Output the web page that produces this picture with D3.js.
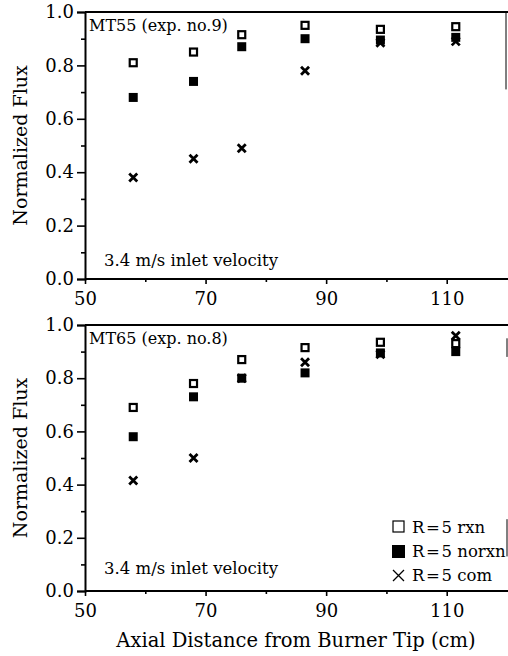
<!DOCTYPE html>
<html>
<head>
<meta charset="utf-8">
<script src="https://cdn.jsdelivr.net/npm/d3@7"></script>
<style>
  body { margin: 0; background: #fff; }
  svg { display: block; font-family: "DejaVu Serif", "Liberation Serif", serif; }
</style>
</head>
<body>
<svg id="chart" width="508" height="656"></svg>
<script>
// axial positions of the probe (cm)
const distances = [58, 68, 76, 86.5, 99, 111.5];

// MT55 (exp. no.9)
const mt55Rxn = [0.81, 0.85, 0.915, 0.95, 0.935, 0.945];
const mt55Norxn = [0.68, 0.74, 0.87, 0.90, 0.895, 0.905];
const mt55Com = [0.38, 0.45, 0.49, 0.78, 0.885, 0.89];

// MT65 (exp. no.8)
const mt65Rxn = [0.69, 0.78, 0.87, 0.915, 0.935, 0.93];
const mt65Norxn = [0.58, 0.73, 0.80, 0.82, 0.895, 0.90];
const mt65Com = [0.415, 0.50, 0.80, 0.86, 0.89, 0.96];

const panelTitles = ["MT55 (exp. no.9)", "MT65 (exp. no.8)"];
const noteText = "3.4 m/s inlet velocity";
const xTicks = [50, 70, 90, 110];
const xMinorTicks = [60, 80, 100];
const yTicks = [0, 0.2, 0.4, 0.6, 0.8, 1.0];
const yMinorTicks = [0.1, 0.3, 0.5, 0.7, 0.9];
const legendLabels = ["R\u200a=\u200a5 rxn", "R\u200a=\u200a5 norxn", "R\u200a=\u200a5 com"];

const svg = d3.select("#chart");
const left = 85, right = 507;

const x = d3.scaleLinear().domain([50, 120]).range([left, right]);

const panels = [
    { title: panelTitles[0], top: 12, bottom: 279, noteGap: 13, rxn: mt55Rxn, norxn: mt55Norxn, com: mt55Com, legend: false },
    { title: panelTitles[1], top: 325, bottom: 591, noteGap: 17, rxn: mt65Rxn, norxn: mt65Norxn, com: mt65Com, legend: true }
];

function drawMarker(g, type, cx, cy) {
    if (type === "rxn") {
        g.append("rect")
            .attr("x", cx - 3.5).attr("y", cy - 3.5)
            .attr("width", 7).attr("height", 7)
            .attr("fill", "#fff").attr("stroke", "#000").attr("stroke-width", 2.2);
    } else if (type === "norxn") {
        g.append("rect")
            .attr("x", cx - 4.5).attr("y", cy - 4.5)
            .attr("width", 9).attr("height", 9)
            .attr("fill", "#000");
    } else {
        g.append("path")
            .attr("d", `M${cx - 4},${cy - 4}L${cx + 4},${cy + 4}M${cx - 4},${cy + 4}L${cx + 4},${cy - 4}`)
            .attr("stroke", "#000").attr("stroke-width", 2.8);
    }
}

panels.forEach(p => {
    const y = d3.scaleLinear().domain([0, 1]).range([p.bottom, p.top]);
    const g = svg.append("g");

    // frame (top, left, bottom; right side only partly visible in the scan)
    g.append("line").attr("x1", left).attr("x2", 508).attr("y1", p.top).attr("y2", p.top)
        .attr("stroke", "#000").attr("stroke-width", 2);

    const yAxis = g.append("g")
        .attr("transform", `translate(${left},0)`)
        .call(d3.axisLeft(y).tickValues(yTicks).tickFormat(d3.format(".1f")).tickSize(8).tickPadding(3));
    yAxis.select(".domain").attr("stroke-width", 2);
    yAxis.selectAll(".tick line").attr("stroke-width", 1.6);
    yAxis.selectAll("text").attr("font-size", 18).attr("fill", "#000").attr("font-family", "DejaVu Serif");

    g.append("g")
        .attr("transform", `translate(${left},0)`)
        .call(d3.axisLeft(y).tickValues(yMinorTicks).tickFormat("").tickSize(4))
        .call(s => s.select(".domain").remove())
        .selectAll(".tick line").attr("stroke-width", 1.6);

    const xAxis = g.append("g")
        .attr("transform", `translate(0,${p.bottom})`)
        .call(d3.axisBottom(x).tickValues(xTicks).tickSize(5).tickPadding(8));
    xAxis.select(".domain").attr("stroke-width", 2).attr("d", `M${left},0H508`);
    xAxis.selectAll(".tick line").attr("stroke-width", 1.6);
    xAxis.selectAll("text").attr("font-size", 18).attr("fill", "#000").attr("font-family", "DejaVu Serif");

    g.append("g")
        .attr("transform", `translate(0,${p.bottom})`)
        .call(d3.axisBottom(x).tickValues(xMinorTicks).tickFormat("").tickSize(3))
        .call(s => s.select(".domain").remove())
        .selectAll(".tick line").attr("stroke-width", 1.6);

    // partial right edge
    if (!p.legend) {
        g.append("line").attr("x1", 506).attr("x2", 506).attr("y1", y(1)).attr("y2", y(0.71))
            .attr("stroke", "#000").attr("stroke-width", 1);
    } else {
        g.append("line").attr("x1", 507).attr("x2", 507).attr("y1", y(0.95)).attr("y2", y(0.88))
            .attr("stroke", "#000").attr("stroke-width", 1);
        g.append("line").attr("x1", 507).attr("x2", 507).attr("y1", y(0.27)).attr("y2", y(0.13))
            .attr("stroke", "#000").attr("stroke-width", 1);
    }

    // y axis label
    g.append("text")
        .attr("transform", `translate(27,${(p.top + p.bottom) / 2}) rotate(-90)`)
        .attr("text-anchor", "middle")
        .attr("font-size", 19)
        .text("Normalized Flux");

    g.append("text")
        .attr("x", left + 4).attr("y", p.top + 19)
        .attr("font-size", 16)
        .text(p.title);

    g.append("text")
        .attr("x", left + 19).attr("y", p.bottom - p.noteGap)
        .attr("font-size", 16.5)
        .text(noteText);

    // markers: filled, cross, then open squares on top
    const marks = g.append("g");
    distances.forEach((d, i) => drawMarker(marks, "norxn", x(d), y(p.norxn[i])));
    distances.forEach((d, i) => drawMarker(marks, "com", x(d), y(p.com[i])));
    distances.forEach((d, i) => drawMarker(marks, "rxn", x(d), y(p.rxn[i])));

    if (p.legend) {
        const lg = g.append("g");
        const types = ["rxn", "norxn", "com"];
        types.forEach((t, i) => {
            const cy = 527 + i * 24;
            if (t === "rxn") {
                lg.append("rect").attr("x", 393).attr("y", cy - 6).attr("width", 11).attr("height", 11)
                    .attr("fill", "#fff").attr("stroke", "#000").attr("stroke-width", 1.2);
            } else if (t === "norxn") {
                lg.append("rect").attr("x", 392).attr("y", cy - 6).attr("width", 13).attr("height", 13)
                    .attr("fill", "#000");
            } else {
                lg.append("path")
                    .attr("d", `M393,${cy - 5}L404,${cy + 6}M393,${cy + 6}L404,${cy - 5}`)
                    .attr("stroke", "#000").attr("stroke-width", 1.3);
            }
            lg.append("text").attr("x", 412).attr("y", cy + 6)
                .attr("font-size", 16.5)
                .text(legendLabels[i]);
        });
    }
});

svg.append("text")
    .attr("x", 296).attr("y", 647)
    .attr("text-anchor", "middle")
    .attr("font-size", 19.5)
    .text("Axial Distance from Burner Tip (cm)");
</script>
</body>
</html>
